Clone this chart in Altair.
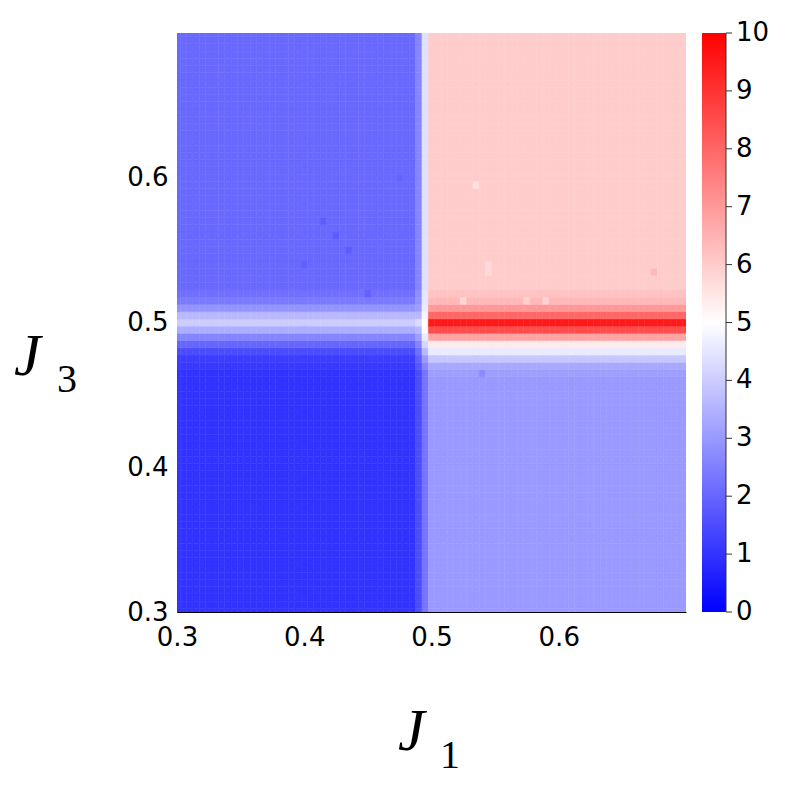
import altair as alt
import numpy as np
import pandas as pd

# ---------------- data ----------------
# grid of the scan: J1 and J3 from 0.3 to 0.7 in steps of 0.005 (81 x 81 cells)
J1_VALUES = [round(0.3 + 0.005 * i, 3) for i in range(81)]
J3_VALUES = [round(0.3 + 0.005 * i, 3) for i in range(81)]

# value per J3 row (index 0 -> J3 = 0.3) for the region J1 < 0.49
LEFT_ROW = ([1.0] * 34 +
            [1.1, 1.2, 1.5, 2.0, 2.6, 3.4, 4.0, 3.6, 2.9, 2.4, 2.2] +
            [2.05] * 36)
# value per J3 row for the column J1 = 0.49
COL_049 = ([1.5] * 34 +
           [1.7, 1.9, 2.2, 2.6, 3.1, 3.6, 4.3, 3.6, 3.1, 2.9, 2.8] +
           [2.6] * 36)
# value per J3 row for the column J1 = 0.495
COL_0495 = ([2.3] * 34 +
            [2.6, 3.0, 3.6, 4.2, 4.6, 4.9, 5.0, 4.8, 4.6, 4.5, 4.5] +
            [4.4] * 36)
# value per J3 row for the region J1 >= 0.5
RIGHT_ROW = ([3.0] * 33 +
             [3.1, 3.3, 3.9, 4.6, 5.4, 6.8, 8.5, 9.5, 8.0, 7.0, 6.4, 6.2] +
             [6.0] * 36)

# isolated cells that differ from their surroundings
SPOT_J1 = [0.415, 0.425, 0.435, 0.4, 0.45, 0.475, 0.535, 0.545, 0.545, 0.525, 0.575, 0.59, 0.675, 0.54]
SPOT_J3 = [0.57, 0.56, 0.55, 0.54, 0.52, 0.6, 0.595, 0.54, 0.535, 0.515, 0.515, 0.515, 0.535, 0.465]
SPOT_VAL = [1.8, 1.8, 1.8, 1.9, 1.9, 1.95, 5.65, 5.7, 5.75, 5.8, 5.9, 5.9, 6.4, 2.7]

X_TICKS = [0.3, 0.4, 0.5, 0.6]
Y_TICKS = [0.3, 0.4, 0.5, 0.6]
CBAR_TICKS = [0, 1, 2, 3, 4, 5, 6, 7, 8, 9, 10]
COLOR_DOMAIN = [0, 5, 10]
COLOR_RANGE = ["#0000ff", "#ffffff", "#ff0000"]

# ---------------- build the cell table ----------------
spots = {(a, b): v for a, b, v in zip(SPOT_J1, SPOT_J3, SPOT_VAL)}
rows = []
half = 0.0025
for ci, j1 in enumerate(J1_VALUES):
    for ri, j3 in enumerate(J3_VALUES):
        if j1 < 0.4875:
            v = LEFT_ROW[ri]
        elif j1 < 0.4925:
            v = COL_049[ri]
        elif j1 < 0.4975:
            v = COL_0495[ri]
        else:
            v = RIGHT_ROW[ri]
        v = spots.get((j1, j3), v)
        rows.append({"x0": j1 - half, "x1": j1 + half,
                     "y0": j3 - half, "y1": j3 + half, "v": v})
df = pd.DataFrame(rows)

W, H = 509, 579
FONT = "DejaVu Sans"
LBL = 26

cscale = alt.Scale(domain=COLOR_DOMAIN, range=COLOR_RANGE, interpolate="rgb")

heat = alt.Chart(df).mark_rect(clip=True, strokeWidth=0.5).encode(
    x=alt.X("x0:Q", scale=alt.Scale(domain=[0.3, 0.7], nice=False, zero=False),
            axis=alt.Axis(values=X_TICKS, format=".1f", title=None, grid=False,
                          ticks=False, labelFlush=False, labelOverlap=False,
                          labelFont=FONT, labelFontSize=LBL, labelColor="black",
                          labelPadding=12, domainColor="black", domainWidth=1)),
    x2="x1:Q",
    y=alt.Y("y0:Q", scale=alt.Scale(domain=[0.3, 0.7], nice=False, zero=False),
            axis=alt.Axis(values=Y_TICKS, format=".1f", title=None, grid=False,
                          ticks=False, labelFlush=False, labelOverlap=False,
                          labelFont=FONT, labelFontSize=LBL, labelColor="black",
                          labelPadding=9, domainColor="black", domainWidth=1)),
    y2="y1:Q",
    color=alt.Color("v:Q", scale=cscale, legend=None),
    stroke=alt.Stroke("v:Q", scale=cscale, legend=None),
)

# ---------------- colour bar ----------------
one = pd.DataFrame({"k": [0]})
grad = alt.Gradient(gradient="linear", x1=0, y1=1, x2=0, y2=0,
                    stops=[alt.GradientStop(color=COLOR_RANGE[0], offset=0),
                           alt.GradientStop(color=COLOR_RANGE[1], offset=0.5),
                           alt.GradientStop(color=COLOR_RANGE[2], offset=1)])
cbar = alt.Chart(one).mark_rect(fill=grad).encode(
    x=alt.value(525), x2=alt.value(549), y=alt.value(0), y2=alt.value(H))
cspine = alt.Chart(one).mark_rule(color="#333333", strokeWidth=1).encode(
    x=alt.value(549), y=alt.value(0), y2=alt.value(H))

tdf = pd.DataFrame({"t": CBAR_TICKS})
cy = alt.Y("t:Q", scale=alt.Scale(domain=[0, 10], nice=False, zero=False), axis=None)
cticks = alt.Chart(tdf).mark_rule(color="#333333", strokeWidth=1).encode(
    y=cy, x=alt.value(549), x2=alt.value(555))
clabels = alt.Chart(tdf).mark_text(align="left", baseline="middle", font=FONT,
                                    fontSize=LBL, color="black").encode(
    y=cy, x=alt.value(559), text="t:Q")

# ---------------- axis titles J_1, J_3 ----------------
def title_part(txt, x, y, size, italic):
    return alt.Chart(pd.DataFrame({"s": [txt]})).mark_text(
        align="left", baseline="alphabetic", font="Liberation Serif",
        fontSize=size, fontStyle="italic" if italic else "normal", color="black"
    ).encode(text="s:N", x=alt.value(x), y=alt.value(y))

titles = [
    title_part("J", 221, 717, 60, True),
    title_part("1", 263, 735, 40, False),
    title_part("J", -163, 342, 60, True),
    title_part("3", -120, 359, 40, False),
]

chart = alt.layer(heat, cbar, cspine, cticks, clabels, *titles).resolve_scale(
    y="independent"
).properties(
    width=W, height=H,
    autosize=alt.AutoSizeParams(type="none"),
    padding={"left": 169, "top": 25, "right": 100, "bottom": 170},
).configure_view(strokeWidth=0)

chart.save("out.html", embed_options={"renderer": "svg", "actions": False})
